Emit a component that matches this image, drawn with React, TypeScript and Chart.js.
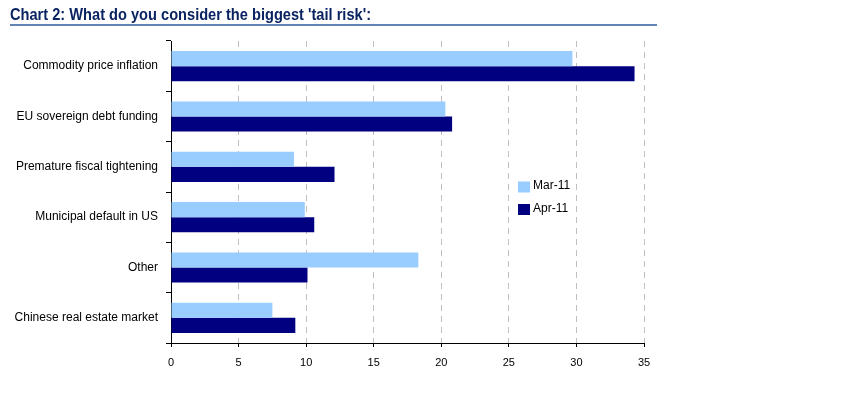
import React, { useEffect, useRef } from "react";
import { Chart, registerables } from "chart.js";

Chart.register(...registerables);

const titleText = "Chart 2: What do you consider the biggest 'tail risk':";
const categories = [
  "Commodity price inflation",
  "EU sovereign debt funding",
  "Premature fiscal tightening",
  "Municipal default in US",
  "Other",
  "Chinese real estate market",
];
const seriesLabels = ["Mar-11", "Apr-11"];
const mar11 = [29.7, 20.3, 9.1, 9.9, 18.3, 7.5];
const apr11 = [34.3, 20.8, 12.1, 10.6, 10.1, 9.2];
const xMin = 0;
const xMax = 35;
const xStep = 5;

const colors = ["#99CCFF", "#000080"];
const FONT = "'Liberation Sans', Arial, sans-serif";

const decorPlugin = {
  id: "decor",
  afterDraw(chart: any) {
    const ctx = chart.ctx as CanvasRenderingContext2D;
    ctx.save();
    // title
    ctx.font = "bold 17px 'Liberation Sans Narrow', 'Liberation Sans', Arial, sans-serif";
    const w = ctx.measureText(titleText).width;
    const target = 361;
    ctx.fillStyle = "#0A2462";
    ctx.textBaseline = "alphabetic";
    ctx.translate(10, 19.5);
    ctx.scale(target / w, 1);
    ctx.fillText(titleText, 0, 0);
    ctx.restore();
    ctx.save();
    ctx.fillStyle = "#6384B4";
    ctx.fillRect(10, 24, 647, 2);
    // legend
    ctx.font = "12px " + FONT;
    ctx.textBaseline = "middle";
    const items = chart.data.datasets;
    const ys = [187, 209.5];
    items.forEach((ds: any, i: number) => {
      ctx.fillStyle = ds.backgroundColor;
      ctx.fillRect(518, ys[i] - 5.5, 12, 11);
      ctx.fillStyle = "#000";
      ctx.textAlign = "left";
      ctx.fillText(ds.label, 533, ys[i] - 1);
    });
    ctx.restore();
  },
};

export default function App() {
  const ref = useRef<HTMLCanvasElement | null>(null);
  useEffect(() => {
    if (!ref.current) return;
    const chart = new Chart(ref.current, {
      type: "bar",
      data: {
        labels: categories,
        datasets: [
          { label: seriesLabels[0], data: mar11, backgroundColor: colors[0] },
          { label: seriesLabels[1], data: apr11, backgroundColor: colors[1] },
        ],
      },
      options: {
        indexAxis: "y",
        animation: false,
        responsive: false,
        devicePixelRatio: 1,
        datasets: {
          bar: { categoryPercentage: 0.6, barPercentage: 1.0, borderWidth: 0 },
        },
        layout: { padding: { left: 0, top: 41, right: 199, bottom: 34 } },
        plugins: {
          legend: { display: false },
          tooltip: { enabled: false },
          title: { display: false },
        },
        scales: {
          x: {
            type: "linear",
            min: xMin,
            max: xMax,
            ticks: {
              stepSize: xStep,
              color: "#000",
              font: { family: FONT, size: 11 },
              padding: 9,
              maxRotation: 0,
            },
            grid: {
              color: "#BFBFBF",
              lineWidth: 1,
              drawTicks: true,
              tickLength: 4,
              tickColor: "#000",
              tickBorderDash: [],
            },
            border: { display: true, color: "#000", width: 1, dash: [6, 5] },
            afterFit: (s: any) => {
              s.height = 30;
            },
          },
          y: {
            type: "category",
            ticks: {
              color: "#000",
              font: { family: FONT, size: 12 },
              padding: 8,
            },
            grid: {
              offset: true,
              drawOnChartArea: false,
              drawTicks: true,
              tickLength: 5,
              tickColor: "#000",
              color: "#000",
            },
            border: { display: true, color: "#000", width: 1 },
            afterFit: (s: any) => {
              s.width = 171;
            },
          },
        },
      },
      plugins: [decorPlugin],
    });
    return () => chart.destroy();
  }, []);
  return (
    <div style={{ position: "fixed", left: 0, top: 0, width: 843, height: 407, background: "#fff" }}>
      <canvas ref={ref} width={843} height={407} style={{ display: "block" }} />
    </div>
  );
}
